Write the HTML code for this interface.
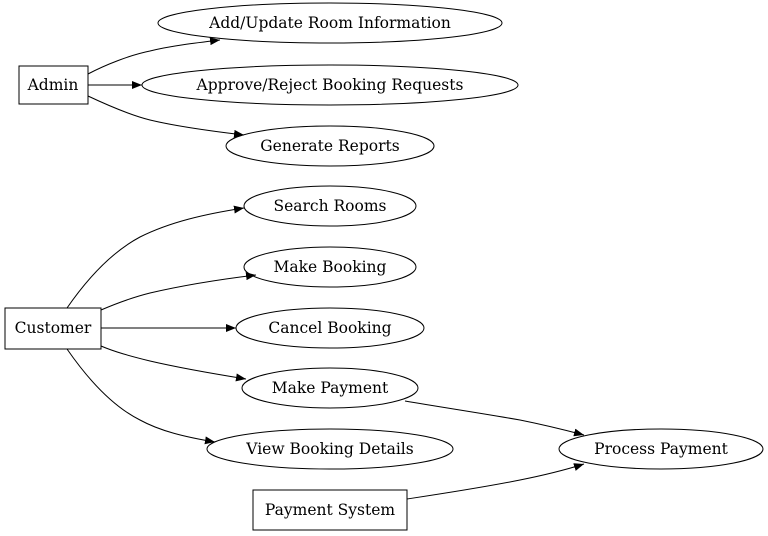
<!DOCTYPE html>
<html><head><meta charset="utf-8"><style>
html,body{margin:0;padding:0;background:#fff;}
svg{display:block}
text{font-family:"DejaVu Serif","Liberation Serif",serif;font-size:15.5px;fill:#000;}
</style></head><body>
<svg width="768" height="536" viewBox="0 0 768 536" xmlns="http://www.w3.org/2000/svg">
<defs><marker id="a" markerWidth="10" markerHeight="8" refX="10" refY="4" orient="auto" markerUnits="userSpaceOnUse"><path d="M0,0 L10,4 L0,8 Z" fill="#000"/></marker></defs>
<g fill="none" stroke="#000" stroke-width="1">
<rect x="19" y="66" width="69" height="38"/>
<rect x="5" y="308" width="96" height="41"/>
<rect x="253" y="490" width="154" height="40"/>
<ellipse cx="330" cy="23" rx="172" ry="20"/>
<ellipse cx="330" cy="85" rx="188" ry="20"/>
<ellipse cx="330" cy="146" rx="104" ry="20"/>
<ellipse cx="330" cy="206" rx="86" ry="20"/>
<ellipse cx="330" cy="267" rx="86" ry="20"/>
<ellipse cx="330" cy="328" rx="94" ry="20"/>
<ellipse cx="330" cy="388" rx="88" ry="20"/>
<ellipse cx="330" cy="449" rx="123" ry="20"/>
<ellipse cx="661" cy="449" rx="102" ry="20"/>
<path d="M88,74 C105,65 130,55 150,51 C170,46 195,43 220,40" marker-end="url(#a)"/>
<path d="M88,85 L142,85" marker-end="url(#a)"/>
<path d="M88,96 C105,104 130,115 150,120 C175,126 210,131 244,135" marker-end="url(#a)"/>
<path d="M67,308 C85,282 110,253 140,237 C170,222 205,214 244,208" marker-end="url(#a)"/>
<path d="M101,310 C115,304 130,298 150,293 C180,286 215,280 256,275" marker-end="url(#a)"/>
<path d="M101,328 L236,328" marker-end="url(#a)"/>
<path d="M101,346 C115,352 130,356 150,361 C180,368 215,374 246,379" marker-end="url(#a)"/>
<path d="M67,349 C85,375 110,405 140,420 C160,431 185,437 215,442" marker-end="url(#a)"/>
<path d="M405,401 C440,407 480,413 520,420 C545,425 565,430 584,435" marker-end="url(#a)"/>
<path d="M407,499 C440,494 480,488 520,480 C545,475 565,470 584,464" marker-end="url(#a)"/>
</g>
<g text-anchor="middle">
<text x="53" y="90">Admin</text>
<text x="53" y="333">Customer</text>
<text x="330" y="515">Payment System</text>
<text x="330" y="28">Add/Update Room Information</text>
<text x="330" y="90">Approve/Reject Booking Requests</text>
<text x="330" y="151">Generate Reports</text>
<text x="330" y="211">Search Rooms</text>
<text x="330" y="272">Make Booking</text>
<text x="330" y="333">Cancel Booking</text>
<text x="330" y="393">Make Payment</text>
<text x="330" y="454">View Booking Details</text>
<text x="661" y="454">Process Payment</text>
</g>
</svg>
</body></html>
